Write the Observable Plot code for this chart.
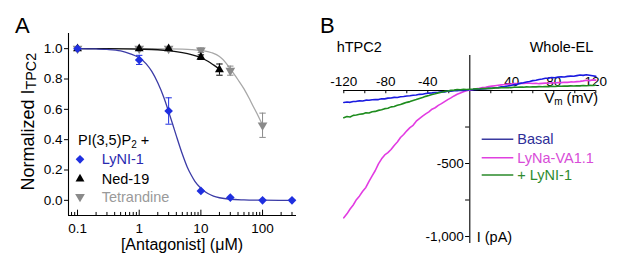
<!DOCTYPE html>
<html><head><meta charset="utf-8">
<script src="https://cdn.jsdelivr.net/npm/d3@7"></script>
<script src="https://cdn.jsdelivr.net/npm/@observablehq/plot@0.6"></script>
<style>
html,body{margin:0;padding:0;background:#fff;}
#wrap{position:relative;width:617px;height:278px;overflow:hidden;font-family:Arial,"Liberation Sans",sans-serif;}
#wrap svg{position:absolute;top:0;overflow:visible;}
</style></head><body><div id="wrap"></div>
<script>
// ---------------- Panel A data ----------------
const seriesA = ["LyNI-1", "Ned-19", "Tetrandine"];
const concLyNI = [0.1, 1, 3, 10, 30, 100, 300];
const meanLyNI = [1.0, 0.926, 0.589, 0.062, 0.018, 0.0, 0.0];
const errLyNI  = [0.012, 0.03, 0.087, 0.01, 0.008, 0, 0];
const concNed = [0.1, 1, 3, 10, 20];
const meanNed = [1.0, 1.0, 1.0, 0.944, 0.862];
const errNed  = [0.01, 0.01, 0.01, 0.015, 0.037];
const concTet = [0.1, 1, 3, 10, 30, 100];
const meanTet = [1.0, 1.0, 1.0, 0.99, 0.855, 0.495];
const errTet  = [0.01, 0.01, 0.01, 0.015, 0.03, 0.08];
const fitLyNIx = [0.1,0.2,0.3,0.5,0.7,1,1.3,1.6,2,2.5,3,3.5,4,5,6,7,8,10,13,16,20,30,50,100,300];
const fitLyNIy = [1.0,0.998,0.995,0.985,0.968,0.94,0.9,0.85,0.775,0.68,0.585,0.5,0.425,0.305,0.22,0.165,0.125,0.08,0.045,0.028,0.017,0.007,0.003,0.001,0.0];
const fitNedx = [0.1,0.3,1,2,3,5,7,10,13,16,20];
const fitNedy = [1.0,1.0,0.997,0.993,0.987,0.974,0.961,0.94,0.917,0.893,0.865];
const fitTetx = [0.1,0.3,1,3,5,7,10,15,20,25,30,40,50,60,70,80,100];
const fitTety = [1.0,1.0,1.0,0.999,0.997,0.994,0.988,0.973,0.948,0.91,0.866,0.795,0.735,0.676,0.622,0.577,0.495];
const yTicksA = [0, 0.2, 0.4, 0.6, 0.8, 1.0];
const xMajorA = [0.1, 1, 10, 100];
const xMajorLabelsA = ["0.1", "1", "10", "100"];
const xMinorA = [0.08,0.09,0.2,0.3,0.4,0.5,0.6,0.7,0.8,0.9,2,3,4,5,6,7,8,9,20,30,40,50,60,70,80,90,200,300];

// ---------------- Panel B data ----------------
const seriesB = ["Basal", "LyNa-VA1.1", "+ LyNI-1"];
const vm = [-120,-117,-114,-111,-108,-105,-102,-99,-96,-93,-90,-87,-84,-81,-78,-75,-72,-69,-66,-63,-60,-57,-54,-51,-48,-45,-42,-39,-36,-33,-30,-27,-24,-21,-18,-15,-12,-9,-6,-3,0,3,6,9,12,15,18,21,24,27,30,33,36,39,42,45,48,51,54,57,60,63,66,69,72,75,78,81,84,87,90,93,96,99,102,105,108,111,114,117,120];
const iBasal = [-82,-79,-81,-75,-74,-71,-72,-66,-67,-63,-61,-62,-56,-57,-52,-51,-47,-48,-43,-41,-38,-36,-32,-31,-26,-25,-20,-18,-16,-13,-12,-8,-9,-5,-4,-1,-2,2,1,4,5,6,8,9,11,12,15,16,19,21,25,27,31,34,39,43,49,53,58,62,68,71,76,79,84,85,89,88,92,94,93,97,99,98,102,106,104,108,105,101,97];
const iLyNa = [-872,-845,-812,-784,-748,-722,-690,-664,-622,-585,-548,-502,-468,-441,-425,-404,-376,-352,-322,-301,-276,-254,-238,-210,-192,-175,-160,-146,-128,-118,-102,-90,-76,-62,-50,-37,-26,-17,-8,-2,3,7,12,15,20,23,27,30,33,36,39,41,44,45,47,48,50,49,51,50,48,50,47,49,51,50,53,52,55,54,57,56,59,58,61,63,66,70,68,73,71];
const iLyNI = [-186,-178,-181,-170,-168,-163,-160,-152,-154,-145,-143,-136,-132,-124,-121,-112,-109,-101,-95,-88,-81,-76,-68,-62,-54,-48,-40,-34,-27,-22,-16,-12,-6,-3,1,3,6,5,8,7,9,10,12,11,14,13,16,15,18,17,20,19,21,20,23,22,24,23,25,24,26,25,27,26,28,27,29,28,30,29,31,30,32,31,33,32,34,33,35,34,36];
const vTicksB = [-120,-100,-80,-60,-40,-20,20,40,60,80,100,120];
const vLabelValsB = [-120,-80,-40,40,80,120];
const vLabelTextB = ["-120","-80","-40","40","80","120"];
const iTicksB = [-250,-500,-750,-1000];
const iLabelValsB = [-500,-1000];
const iLabelTextB = ["-500","-1,000"];

// ---------------- helpers ----------------
const FONT = 'Arial, "Liberation Sans", sans-serif';
const rows = (xs, ys, es) => xs.map((x, i) => ({x, y: ys[i], e: es ? es[i] : 0}));
const triDown = {draw(ctx, size) {const y = Math.sqrt(size / (Math.sqrt(3) * 3)); ctx.moveTo(0, 2 * y); ctx.lineTo(-Math.sqrt(3) * y, -y); ctx.lineTo(Math.sqrt(3) * y, -y); ctx.closePath();}};
const capSym = {draw(ctx, size) {const w = Math.sqrt(size / Math.PI); ctx.moveTo(-w, 0); ctx.lineTo(w, 0);}};

const colA = {lyni: "#1f2fe0", lyniLine: "#3b3ba6", lyniText: "#2a2ab0", ned: "#000000", tet: "#8a8a8a", tetLine: "#a8a8a8", tetText: "#9a9a9a"};
const styleA = {fontFamily: FONT, fontSize: "13.5px", color: "#000", background: "transparent", overflow: "visible"};

const dLyNI = rows(concLyNI, meanLyNI, errLyNI);
const dNed = rows(concNed, meanNed, errNed);
const dTet = rows(concTet, meanTet, errTet);
const xDomA = [0.0714, 355], yDomA = [-0.1, 1.1];

function errMarks(data, color) {
  const d = data.filter(r => r.e > 0.011);
  return [
    Plot.ruleX(d, {x: "x", y1: r => r.y - r.e, y2: r => r.y + r.e, stroke: color, strokeWidth: 1}),
    Plot.dot(d, {x: "x", y: r => r.y + r.e, symbol: capSym, r: 3.2, stroke: color, fill: "none", strokeWidth: 1}),
    Plot.dot(d, {x: "x", y: r => r.y - r.e, symbol: capSym, r: 3.2, stroke: color, fill: "none", strokeWidth: 1})
  ];
}

const plotA = Plot.plot({
  width: 310, height: 278,
  marginLeft: 68, marginRight: 14, marginTop: 33, marginBottom: 63,
  style: styleA,
  x: {type: "log", domain: xDomA},
  y: {domain: yDomA},
  marks: [
    Plot.axisY({ticks: yTicksA, tickSize: 4, tickPadding: 2, tickFormat: d => d.toFixed(1), label: null, fontSize: 13.5}),
    Plot.axisX({ticks: xMajorA, tickSize: 0, tickPadding: 8, tickFormat: (d, i) => xMajorLabelsA[xMajorA.indexOf(d)], label: null, fontSize: 13.5}),
    Plot.ruleX(xMinorA, {x: d => d, y1: yDomA[0], y2: yDomA[0] + 0.02, stroke: "#000"}),
    Plot.ruleX(xMajorA, {x: d => d, y1: yDomA[0], y2: yDomA[0] + 0.035, stroke: "#000"}),
    Plot.ruleX([xDomA[0]], {stroke: "#000", strokeWidth: 1.1}),
    Plot.ruleY([yDomA[0]], {stroke: "#000", strokeWidth: 1.1}),
    Plot.line(rows(fitTetx, fitTety), {x: "x", y: "y", stroke: colA.tetLine, strokeWidth: 1.3, curve: "monotone-x"}),
    Plot.line(rows(fitNedx, fitNedy), {x: "x", y: "y", stroke: "#111", strokeWidth: 1.3, curve: "monotone-x"}),
    Plot.line(rows(fitLyNIx, fitLyNIy), {x: "x", y: "y", stroke: colA.lyniLine, strokeWidth: 1.3, curve: "monotone-x"}),
    ...errMarks(dTet, colA.tet),
    ...errMarks(dNed, colA.ned),
    ...errMarks(dLyNI, colA.lyni),
    Plot.dot(dTet, {x: "x", y: "y", symbol: triDown, r: 3.6, fill: colA.tet, stroke: "none"}),
    Plot.dot(dNed, {x: "x", y: "y", symbol: "triangle", r: 3.3, fill: colA.ned, stroke: "none"}),
    Plot.dot(dLyNI, {x: "x", y: "y", symbol: "diamond2", r: 3.9, fill: colA.lyni, stroke: "none"})
  ]
});

// ---------------- Panel B ----------------
const colB = {basal: "#1a1ae0", lyna: "#e23ce2", lyni: "#1e8c1e"};
const legLineB = ["#3a3aa0", "#e040e0", "#2a8a2a"];
const legTextB = ["#2e2e98", "#d84cd8", "#2e8b2e"];
const yDomB = [-1048, 240];
const plotB = Plot.plot({
  width: 307, height: 278,
  marginLeft: 33.3, marginRight: 21.7, marginTop: 55, marginBottom: 35,
  style: {fontFamily: FONT, fontSize: "13.5px", color: "#000", background: "transparent", overflow: "visible"},
  x: {domain: [-120, 120], axis: null},
  y: {domain: yDomB, axis: null},
  marks: [
    Plot.ruleY([0], {stroke: "#000", strokeWidth: 1.1}),
    Plot.ruleX([0], {stroke: "#000", strokeWidth: 1.1}),
    Plot.ruleX(vTicksB, {x: d => d, y1: 0, y2: -22, stroke: "#000"}),
    Plot.text(vLabelValsB, {x: d => d, y: 0, text: (d, i) => vLabelTextB[i], dy: -9, fontSize: 13.5, fill: "#000"}),
    Plot.ruleY(iTicksB, {y: d => d, x1: 0, x2: -4, stroke: "#000"}),
    Plot.text(iLabelValsB, {x: 0, y: d => d, text: (d, i) => iLabelTextB[i], dx: -6, textAnchor: "end", fontSize: 13.5, fill: "#000"}),
    Plot.line(vm.map((v, i) => ({v, i: iLyNa[i]})), {x: "v", y: "i", stroke: colB.lyna, strokeWidth: 1.6}),
    Plot.line(vm.map((v, i) => ({v, i: iBasal[i]})), {x: "v", y: "i", stroke: colB.basal, strokeWidth: 1.6}),
    Plot.line(vm.map((v, i) => ({v, i: iLyNI[i]})), {x: "v", y: "i", stroke: colB.lyni, strokeWidth: 1.6})
  ]
});

const wrap = document.getElementById("wrap");
plotA.style.left = "0px";
plotB.style.left = "310px";
wrap.appendChild(plotA);
wrap.appendChild(plotB);

function txt(svg, x, y, str, o = {}) {
  return d3.select(svg).append("text").attr("x", x).attr("y", y)
    .attr("font-family", FONT).attr("font-size", o.size || 14.5)
    .attr("fill", o.fill || "#000").attr("text-anchor", o.anchor || "start").text(str);
}

// Panel A annotations
txt(plotA, 15, 33, "A", {size: 22});
const yl = d3.select(plotA).append("text").attr("transform", "translate(34,121.7) rotate(-90)")
  .attr("font-family", FONT).attr("font-size", 18).attr("text-anchor", "middle").attr("fill", "#000");
yl.append("tspan").text("Normalized I");
yl.append("tspan").attr("font-size", 14.4).attr("dy", 2).text("TPC2");
const xl = txt(plotA, 182, 249.5, "[Antagonist] (\u03bcM)", {size: 16, anchor: "middle"});
const pt = txt(plotA, 78, 145, "PI(3,5)P", {size: 14.5});
pt.append("tspan").attr("font-size", 10).attr("dy", 3).text("2");
pt.append("tspan").attr("dy", -3).text(" +");
const legA = [
  {name: seriesA[0], y: 159.3, sym: d3.symbolDiamond2, size: Math.PI * 3.9 * 3.9, fill: colA.lyni, text: colA.lyniText},
  {name: seriesA[1], y: 179, sym: d3.symbolTriangle, size: Math.PI * 3.3 * 3.3, fill: colA.ned, text: "#000"},
  {name: seriesA[2], y: 196.7, sym: triDown, size: Math.PI * 3.6 * 3.6, fill: colA.tet, text: colA.tetText}
];
legA.forEach(l => {
  d3.select(plotA).append("path").attr("transform", `translate(80,${l.y})`).attr("d", d3.symbol(l.sym, l.size)()).attr("fill", l.fill);
  txt(plotA, 101.7, l.y + 5, l.name, {size: 14.5, fill: l.text});
});

// Panel B annotations
txt(plotB, 10, 33, "B", {size: 22});
txt(plotB, 26.7, 51.7, "hTPC2", {size: 14.5});
txt(plotB, 283.3, 51.7, "Whole-EL", {size: 14.5, anchor: "end"});
const vl = txt(plotB, 288, 103, "V", {size: 14.5, anchor: "end"});
vl.append("tspan").attr("font-size", 10).attr("dy", 2).text("m");
vl.append("tspan").attr("dy", -2).text(" (mV)");
txt(plotB, 166.7, 241.5, "I (pA)", {size: 14.5});
const legYs = [139.3, 157.7, 175];
seriesB.forEach((s, i) => {
  d3.select(plotB).append("line").attr("x1", 171.7).attr("x2", 203.3).attr("y1", legYs[i]).attr("y2", legYs[i])
    .attr("stroke", legLineB[i]).attr("stroke-width", 1.4);
  txt(plotB, 207.3, legYs[i] + 5, s, {size: 14.5, fill: legTextB[i]});
});
</script></body></html>
